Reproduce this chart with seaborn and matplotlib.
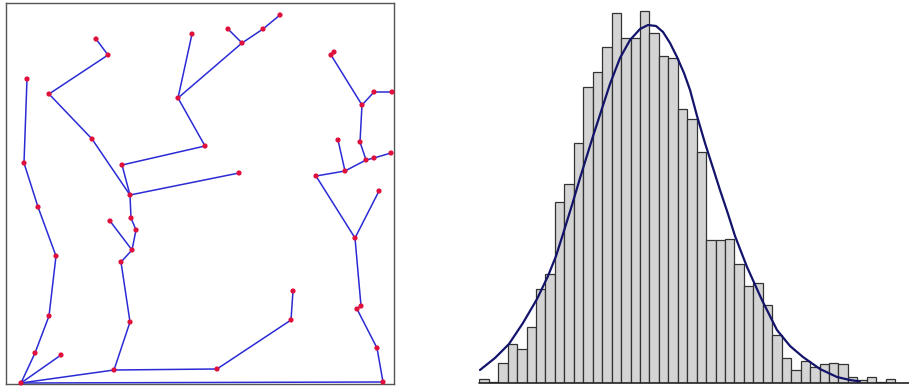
import numpy as np
import pandas as pd
import matplotlib
matplotlib.use("Agg")
import matplotlib.pyplot as plt
import seaborn as sns

sns.set_style("white")

# --- left panel: tree (node positions on a 0..400 grid, y measured downwards) ---
node_x = [96, 108, 49, 92, 130, 122, 205, 178, 192, 242, 228, 263, 280, 239,
          131, 136, 132, 110, 121, 130, 114, 21, 61, 35, 49, 56, 38, 24, 27,
          217, 291, 293, 383, 377, 357, 361, 355, 379, 316, 345, 338, 366, 374,
          391, 360, 362, 374, 392, 331, 334]
node_y = [39, 55, 94, 139, 195, 165, 146, 98, 34, 43, 29, 29, 15, 173,
          218, 230, 250, 221, 262, 322, 370, 383, 355, 353, 316, 256, 207, 163, 79,
          369, 320, 291, 382, 348, 309, 306, 238, 191, 176, 171, 140, 160, 158,
          153, 142, 105, 92, 92, 55, 52]
edges = [(0, 1), (1, 2), (2, 3), (3, 4), (4, 5), (5, 6), (6, 7), (7, 8), (7, 9),
         (9, 10), (9, 11), (11, 12), (4, 13), (4, 14), (14, 15), (15, 16),
         (16, 17), (16, 18), (18, 19), (19, 20), (20, 21), (21, 22), (21, 23),
         (23, 24), (24, 25), (25, 26), (26, 27), (27, 28), (20, 29), (29, 30),
         (30, 31), (21, 32), (32, 33), (33, 34), (34, 35), (35, 36), (36, 37),
         (36, 38), (38, 39), (39, 40), (39, 41), (41, 42), (42, 43), (41, 44),
         (44, 45), (45, 46), (46, 47), (45, 48), (48, 49)]

# --- right panel: histogram counts per bin and the fitted curve ---
counts = [3.5, 1, 19.5, 38.5, 34, 56, 93.5, 109, 181, 198.5,
          240, 296, 311, 336, 369.5, 345, 345, 372, 350, 327,
          325, 273.5, 264, 231, 143, 143, 144, 118.5, 97, 99.5,
          78, 47.5, 25, 13, 22, 16, 18.5, 20, 18.5, 6,
          2.5, 6, 0.5, 3.5]
curve_x = [0.07, 1.66, 3.14, 4.62, 6.11, 7.27, 8.12, 8.86, 9.81, 10.66,
           12.04, 13.83, 14.89, 15.95, 17.01, 17.85, 18.70, 19.44, 20.18,
           20.92, 21.66, 22.30, 23.04, 23.88, 24.73, 25.47, 26.32, 27.06,
           28.33, 29.91, 31.50, 32.88, 34.25, 36.05, 37.85, 39.22, 40.27]
curve_y = [12.5, 24.5, 38.5, 59.5, 83.5, 106.5, 126.5, 148.5, 177.5, 204.5,
           246.5, 298.5, 324.5, 342.5, 353.5, 357.5, 356.5, 350.5, 339.5,
           325.5, 309.5, 292.5, 266.5, 239.5, 214.5, 192.5, 168.5, 146.5,
           115.5, 82.5, 52.5, 36.5, 25.5, 13.5, 5.5, 2.5, 1]

fig = plt.figure(figsize=(9.09, 3.89), dpi=100)

# tree panel
ax1 = fig.add_axes([6 / 909, 5 / 389, 388 / 909, 381 / 389])
edge_df = pd.DataFrame(
    [{"edge": i, "x": node_x[n], "y": node_y[n]}
     for i, (a, b) in enumerate(edges) for n in (a, b)]
)
sns.lineplot(data=edge_df, x="x", y="y", units="edge", estimator=None,
             sort=False, color="#2b2bd6", linewidth=1.1, ax=ax1, legend=False)
sns.scatterplot(x=node_x, y=node_y, color="#e0103c", s=14, edgecolor="none",
                ax=ax1, zorder=3, clip_on=False)
ax1.set_xlim(6, 394)
ax1.set_ylim(384, 3)
ax1.set_xticks([])
ax1.set_yticks([])
ax1.set_xlabel("")
ax1.set_ylabel("")
for sp in ax1.spines.values():
    sp.set_visible(True)
    sp.set_color("#555555")
    sp.set_linewidth(1.0)

# histogram panel
n_bins = len(counts)
ax2 = fig.add_axes([479.3 / 909, 6.5 / 389, (909 - 479.3) / 909, 382.5 / 389])
sns.histplot(x=np.arange(n_bins) + 0.5, weights=counts, bins=n_bins,
             binrange=(0, n_bins), color="#d4d4d4", edgecolor="#333333",
             linewidth=0.9, alpha=1, ax=ax2)
sns.lineplot(x=curve_x, y=curve_y, color="#13136b", linewidth=1.6,
             sort=False, ax=ax2)
ax2.axhline(0, color="#222222", linewidth=1.2, clip_on=False)
ax2.set_xlim(0, (909 - 479.3) / 9.45)
ax2.set_ylim(0, 382.5)
ax2.set_axis_off()

fig.savefig("out.png", dpi=100)
